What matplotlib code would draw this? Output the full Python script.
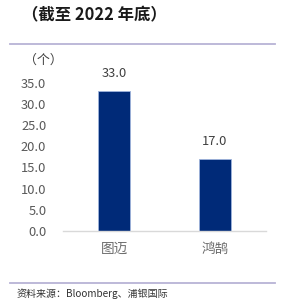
import matplotlib.pyplot as plt
import matplotlib.lines as mlines

plt.rcParams['font.family'] = ['Noto Sans CJK SC', 'DejaVu Sans']

categories = ['图迈', '鸿鹄']
values = [33.0, 17.0]
yticks = [0, 5, 10, 15, 20, 25, 30, 35]

W, H = 284, 308
fig = plt.figure(figsize=(W / 100, H / 100), dpi=100)

# axes placed in pixel terms
left, right, bottom, top = 63, 266, 231, 61.4
ax = fig.add_axes([left / W, 1 - bottom / H, (right - left) / W, (bottom - top) / H])

bars = ax.bar(range(len(categories)), values, width=0.32, color='#002a78',
              edgecolor='#9fb4dc', linewidth=0.6)
ax.set_xlim(-0.505, 1.505)
ax.set_ylim(0, 40)
ax.set_yticks(yticks)
ax.set_yticklabels(['%.1f' % v for v in yticks], fontsize=9.3, color='#595959')
ax.set_xticks(range(len(categories)))
ax.set_xticklabels(categories, fontsize=9.8, color='#6b6b6b')
ax.tick_params(length=0)
ax.tick_params(axis='y', pad=12)
ax.tick_params(axis='x', pad=8)
for s in ['top', 'right', 'left']:
    ax.spines[s].set_visible(False)
ax.spines['bottom'].set_color('#d9d9d9')
ax.spines['bottom'].set_linewidth(1.0)

for i, v in enumerate(values):
    ax.annotate('%.1f' % v, (i, v), xytext=(0, 8), textcoords='offset points',
                ha='center', va='bottom', fontsize=9.3, color='#404040')

fig.text(24 / W, 1 - 60 / H, '（个）', fontsize=9.3, color='#404040', va='center', ha='left')

fig.text(22 / W, 1 - 15 / H, '（截至 2022 年底）', fontsize=11.8, fontweight='bold',
         color='#1a1a1a', va='center', ha='left')

for y in [44, 283]:
    fig.add_artist(mlines.Line2D([10 / W, 275 / W], [1 - y / H, 1 - y / H],
                                 color='#b7b3d6', linewidth=1.3))

fig.text(17 / W, 1 - 294 / H, '资料来源：Bloomberg、浦银国际', fontsize=7.2,
         color='#333333', va='center', ha='left')

fig.savefig('out.png', dpi=100)
